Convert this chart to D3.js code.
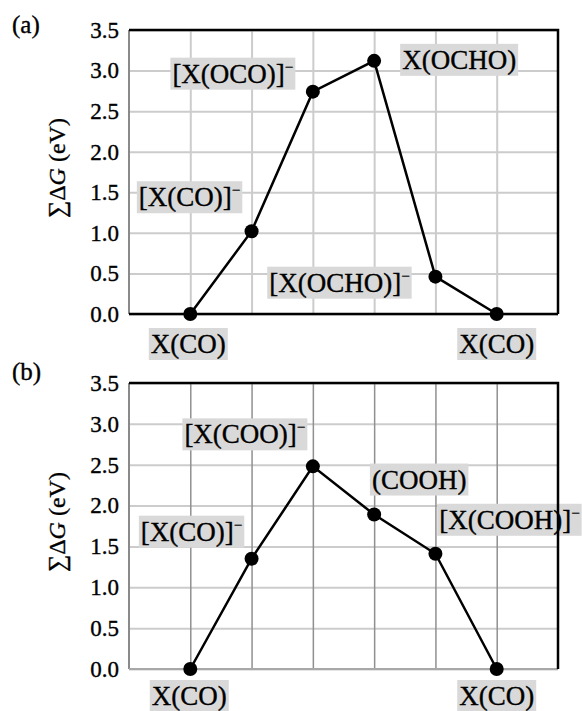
<!DOCTYPE html>
<html>
<head>
<meta charset="utf-8">
<script src="https://cdn.jsdelivr.net/npm/d3@7"></script>
<style>
  body { margin: 0; background: #fff; }
  svg text { font-family: "Liberation Serif", "Times New Roman", Times, serif !important; stroke: #000; stroke-width: 0.35px; }
</style>
</head>
<body>
<script>
// reaction steps (x positions) and cumulative free energy for each path
const steps = [1, 2, 3, 4, 5, 6];
const dgA = [0.0, 1.02, 2.74, 3.12, 0.46, 0.0];
const dgB = [0.0, 1.35, 2.48, 1.89, 1.41, 0.0];
const yTicks = [0.0, 0.5, 1.0, 1.5, 2.0, 2.5, 3.0, 3.5];

// species names, [base, charge]
const namesA = [["X(CO)", ""], ["[X(CO)]", "−"], ["[X(OCO)]", "−"], ["X(OCHO)", ""], ["[X(OCHO)]", "−"], ["X(CO)", ""]];
const namesB = [["X(CO)", ""], ["[X(CO)]", "−"], ["[X(COO)]", "−"], ["(COOH)", ""], ["[X(COOH)]", "−"], ["X(CO)", ""]];

const W = 582, H = 711;
const left = 129, right = 558;

const svg = d3.select("body").append("svg")
  .attr("width", W)
  .attr("height", H);

// label box centre relative to its point (px)
const offA = [[-2, 30], [-62, -34], [-80, -18], [85, -1], [-96, 6], [0, 30]];
const offB = [[-1, 27], [-60, -27], [-68, -32], [45, -35], [74, -34], [0, 27]];

function panel(cfg) {
  const w = right - left, h = cfg.bottom - cfg.top;
  const g = svg.append("g").attr("transform", "translate(" + left + "," + cfg.top + ")");

  const x = d3.scaleLinear().domain([0, 7]).range([0, w]);
  const y = d3.scaleLinear().domain([0, 3.5]).range([h, 0]);

  // horizontal grid + tick labels
  const ya = g.append("g")
    .call(d3.axisLeft(y).tickValues(yTicks).tickFormat(d3.format(".1f")).tickSize(-w).tickPadding(10));
  ya.attr("font-family", null);
  ya.select(".domain").remove();
  ya.selectAll(".tick line").attr("stroke", "#cccccc").attr("stroke-width", 2);
  ya.selectAll(".tick text")
    .attr("font-size", 23)
    .attr("fill", "#000");

  // vertical grid
  const xa = g.append("g")
    .attr("transform", "translate(0," + h + ")")
    .call(d3.axisBottom(x).tickValues(steps).tickFormat("").tickSize(-h));
  xa.select(".domain").remove();
  xa.selectAll(".tick line").attr("stroke", cfg.vgrid).attr("stroke-width", cfg.vgridW);

  // labels
  const fs = 27;
  cfg.names.forEach((n, i) => {
    const cx = x(steps[i]) + cfg.off[i][0];
    const cy = y(cfg.vals[i]) + cfg.off[i][1];
    const lg = g.append("g");
    const t = lg.append("text")
      .attr("x", cx)
      .attr("y", cy + 9)
      .attr("text-anchor", "middle")
      .attr("font-size", fs)
      .attr("fill", "#000");
    t.append("tspan").text(n[0]);
    if (n[1]) {
      t.append("tspan").attr("dy", -11).attr("font-size", 15).text(n[1]);
    }
    const bb = t.node().getBBox();
    lg.insert("rect", "text")
      .attr("x", bb.x - 2)
      .attr("y", cy - 16)
      .attr("width", bb.width + 4)
      .attr("height", 32)
      .attr("fill", "#d9d9d9");
  });

  // frame
  g.append("line").attr("x1", 0).attr("x2", 0).attr("y1", 0).attr("y2", h)
    .attr("stroke", "#8a8a8a").attr("stroke-width", 2);
  g.append("line").attr("x1", 0).attr("x2", w).attr("y1", h).attr("y2", h)
    .attr("stroke", cfg.baseColor).attr("stroke-width", cfg.baseW);
  g.append("path")
    .attr("d", "M0,0H" + w + "V" + h)
    .attr("fill", "none").attr("stroke", "#000").attr("stroke-width", 2.5);

  // path
  const line = d3.line().x((d, i) => x(steps[i])).y(d => y(d));
  g.append("path")
    .datum(cfg.vals)
    .attr("d", line)
    .attr("fill", "none")
    .attr("stroke", "#000")
    .attr("stroke-width", 2.5);

  g.selectAll("circle.pt")
    .data(cfg.vals)
    .enter()
    .append("circle")
    .attr("class", "pt")
    .attr("cx", (d, i) => x(steps[i]))
    .attr("cy", d => y(d))
    .attr("r", 7)
    .attr("fill", "#000");

  // y title
  const ty = svg.append("text")
    .attr("transform", "translate(57," + (cfg.top + h / 2 - 4) + ") rotate(-90)")
    .attr("text-anchor", "middle")
    .attr("dominant-baseline", "central")
    .attr("font-size", 24)
    .attr("fill", "#000");
  ty.append("tspan").text("∑Δ");
  ty.append("tspan").attr("font-style", "italic").text("G");
  ty.append("tspan").text(" (eV)");

  svg.append("text")
    .attr("x", 12)
    .attr("y", cfg.panelY)
    .attr("font-size", 25)
    .attr("fill", "#000")
    .text(cfg.tag);
}

panel({ top: 30, bottom: 314, vals: dgA, names: namesA, off: offA, vgrid: "#cccccc", vgridW: 2,
  baseColor: "#000", baseW: 2.5, tag: "(a)", panelY: 33 });
panel({ top: 383, bottom: 669, vals: dgB, names: namesB, off: offB, vgrid: "#909090", vgridW: 1.5,
  baseColor: "#a8a8a8", baseW: 2, tag: "(b)", panelY: 380 });
</script>
</body>
</html>
